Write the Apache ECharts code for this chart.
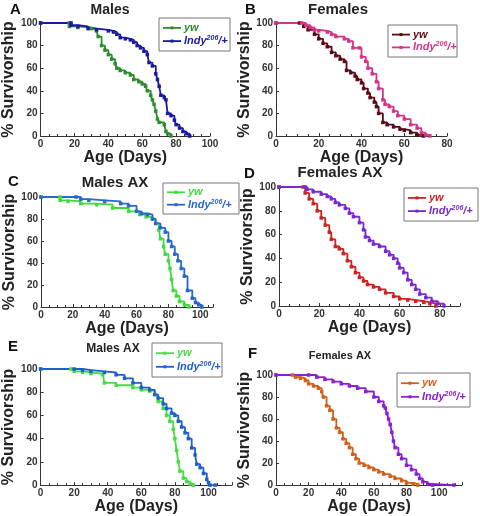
<!DOCTYPE html><html><head><meta charset="utf-8"><script src="https://cdn.jsdelivr.net/npm/echarts@6/dist/echarts.min.js"></script>
<style>body{margin:0;background:#fff}#c{width:480px;height:516px}</style></head><body><div id="c"></div><script>
const A_yw=[[0,100],[17,100],[17,97],[22,96],[30,95],[33,93],[34,88],[36,80],[38,76],[40,72],[42,68],[44,64],[45,60],[47,58],[50,56],[53,54],[55,50],[58,48],[60,46],[62,44],[63,40],[65,36],[66,32],[67,28],[68,22],[69,15],[70,12],[73,10],[74,4],[75,2],[77,0]];
const A_indy=[[0,100],[18,100],[18,98],[22,97],[28,95],[33,94],[40,93],[43,92],[45,90],[47,87],[50,86],[53,85],[55,83],[57,80],[59,78],[61,75],[63,72],[64,65],[66,62],[68,55],[69,50],[70,44],[71,36],[73,34],[74,32],[75,20],[77,18],[79,14],[80,10],[82,7],[84,4],[86,2],[88,0]];
const B_yw=[[0,100],[11,100],[13,97],[15,94],[18,90],[20,86],[22,82],[24,79],[26,74],[28,71],[30,68],[32,66],[33,58],[35,56],[37,53],[38,50],[40,47],[41,42],[43,38],[44,34],[46,30],[47,26],[48,20],[50,12],[52,10],[55,8],[58,6],[60,5],[63,3],[66,1],[69,0]];
const B_indy=[[0,100],[12,100],[14,98],[16,96],[18,94],[20,93],[24,92],[26,90],[28,88],[32,86],[34,84],[36,78],[39,78],[40,70],[42,66],[43,60],[45,55],[47,48],[48,42],[50,32],[51,28],[53,26],[55,22],[57,18],[60,15],[63,10],[66,7],[68,3],[70,1],[72,0]];
const C_yw=[[0,100],[12,100],[12,97],[17,96],[25,94],[35,93],[45,90],[55,87],[62,84],[66,82],[70,80],[72,76],[74,70],[75,62],[77,55],[78,48],[80,42],[81,35],[82,25],[83,15],[85,10],[87,5],[90,2],[93,0]];
const C_indy=[[0,100],[22,100],[25,98],[30,97],[40,96],[50,94],[55,92],[60,87],[63,85],[67,84],[70,80],[72,76],[75,72],[78,68],[80,60],[82,55],[84,48],[86,42],[88,35],[90,28],[92,15],[95,8],[97,4],[99,2],[101,0]];
const D_yw=[[0,100],[12,100],[13,95],[15,90],[17,86],[19,80],[21,74],[23,68],[25,62],[26,56],[28,50],[30,48],[32,44],[34,38],[36,33],[38,28],[40,24],[42,21],[44,18],[47,16],[50,14],[53,11],[57,8],[60,6],[64,5],[68,4],[72,3],[75,2],[78,0]];
const D_indy=[[0,100],[13,100],[14,98],[17,96],[21,94],[24,92],[26,90],[28,87],[30,85],[33,82],[35,78],[37,75],[40,70],[42,64],[43,58],[45,55],[47,52],[50,50],[53,46],[55,43],[57,40],[59,36],[60,32],[62,28],[64,22],[66,18],[68,14],[70,10],[73,7],[76,4],[79,2],[82,0]];
const E_yw=[[0,100],[18,100],[20,98],[25,97],[30,96],[37,95],[38,88],[45,86],[55,84],[60,82],[65,81],[68,78],[70,72],[73,66],[75,60],[77,55],[79,48],[80,40],[81,30],[82,20],[83,12],[85,6],[87,3],[89,1],[91,0]];
const E_indy=[[0,100],[20,100],[25,99],[30,98],[38,97],[45,95],[50,92],[55,88],[60,84],[65,82],[68,78],[70,75],[73,70],[75,66],[78,62],[80,60],[82,55],[84,50],[86,45],[88,40],[90,32],[92,26],[93,18],[95,15],[97,10],[99,5],[100,2],[101,0],[104,0]];
const F_yw=[[0,100],[10,100],[12,98],[15,97],[18,95],[20,92],[23,90],[26,88],[28,85],[29,80],[31,72],[33,68],[35,60],[37,52],[39,48],[41,42],[43,38],[45,34],[47,28],[49,24],[51,20],[54,18],[57,16],[60,14],[63,12],[66,10],[70,8],[73,6],[77,4],[80,2],[84,1],[87,0]];
const F_indy=[[0,100],[20,100],[25,98],[30,96],[35,94],[40,92],[45,90],[50,88],[55,85],[60,80],[63,76],[66,72],[67,70],[68,65],[69,60],[70,55],[71,48],[72,40],[73,34],[75,28],[77,24],[80,18],[83,14],[86,10],[88,6],[90,3],[93,1],[96,0],[109,0]];

const panels=[
 {g:[38,23,172,113],max:100,d:[A_yw,A_indy],c:['#2e8b2e','#1a1a9e'],leg:[159,18,71,33],t:'Males',tp:[110,10,14],L:'A',lp:[10,10]},
 {g:[276,23,171,113],max:80,d:[B_yw,B_indy],c:['#5a0a14','#d6338a'],leg:[388,25,69,32],t:'Females',tp:[338,10,15],L:'B',lp:[245,10]},
 {g:[41,197,172,110],max:108,d:[C_yw,C_indy],c:['#3ddc3d','#2a66cc'],leg:[163,183,76,31],t:'Males AX',tp:[115,183,15],L:'C',lp:[8,182]},
 {g:[279,187,181,119],max:90,d:[D_yw,D_indy],c:['#cc2222','#7a28d0'],leg:[404,188,74,33],t:'Females AX',tp:[340,173,15],L:'D',lp:[244,174]},
 {g:[36,369,196,120],max:114,d:[E_yw,E_indy],c:['#44dd44','#1f5fcc'],leg:[152,343,70,34],t:'Males AX',tp:[113,349,12],L:'E',lp:[8,347]},
 {g:[276,375,186,115],max:114,d:[F_yw,F_indy],c:['#d2601a','#8b1fd6'],leg:[397,373,73,34],t:'Females AX',tp:[340,356,11],L:'F',lp:[248,354]}
];
const grid=[],xAxis=[],yAxis=[],series=[],graphic=[];
const lab={fontWeight:'bold',fontSize:10,color:'#333',margin:3};
panels.forEach((p,i)=>{
 grid.push({left:p.g[0],top:p.g[1],width:p.g[2],height:p.g[3]});
 xAxis.push({gridIndex:i,type:'value',min:0,max:p.max,interval:20,name:'Age (Days)',nameLocation:'middle',nameGap:12,
  nameTextStyle:{fontWeight:'bold',fontSize:16,color:'#222'},axisLine:{lineStyle:{color:'#333'}},axisTick:{inside:true,length:3,lineStyle:{color:'#333'}},
  minorTick:{show:true,splitNumber:4,length:2},splitLine:{show:false},axisLabel:Object.assign({showMaxLabel:p.max%20===0},lab)});
 yAxis.push({gridIndex:i,type:'value',min:0,max:100,interval:20,name:'% Survivorship',nameLocation:'middle',nameGap:21,
  nameTextStyle:{fontWeight:'bold',fontSize:16,color:'#222'},axisLine:{show:true,lineStyle:{color:'#333'}},axisTick:{show:true,inside:true,length:3},
  splitLine:{show:false},axisLabel:lab});
 const names=['yw','Indy'];
 p.d.forEach((d,j)=>series.push({type:'line',xAxisIndex:i,yAxisIndex:i,data:d,step:'end',symbol:'rect',symbolSize:3.5,
  lineStyle:{width:1.8,color:p.c[j]},itemStyle:{color:p.c[j]},name:names[j]+i,animation:false}));
 const [lx,ly,lw,lh]=p.leg;
 graphic.push({type:'rect',shape:{x:lx,y:ly,width:lw,height:lh},style:{fill:'#fff',stroke:'#777',lineWidth:1},z:100});
 [0,1].forEach(j=>{const yy=ly+lh*(j?0.7:0.3);
  graphic.push({type:'line',shape:{x1:lx+4,y1:yy,x2:lx+22,y2:yy},style:{stroke:p.c[j],lineWidth:1.8},z:101});
  graphic.push({type:'rect',shape:{x:lx+11.5,y:yy-1.5,width:3,height:3},style:{fill:p.c[j]},z:101});
  graphic.push({type:'text',x:lx+25,y:yy,z:101,style:{text:j?'{i|Indy}{s|206}{i|/+}':'{i|yw}',verticalAlign:'middle',
   rich:{i:{fontStyle:'italic',fontWeight:'bold',fontSize:11,fill:p.c[j]},s:{fontStyle:'italic',fontWeight:'bold',fontSize:7,fill:p.c[j],verticalAlign:'top',padding:[0,0,6,0]}}}});
 });
 graphic.push({type:'text',x:p.tp[0],y:p.tp[1],style:{text:p.t,fontWeight:'bold',fontSize:p.tp[2],fill:'#222',align:'center',verticalAlign:'middle'}});
 graphic.push({type:'text',x:p.lp[0],y:p.lp[1],style:{text:p.L,fontWeight:'bold',fontSize:15,fill:'#111',verticalAlign:'middle'}});
});
const ch=echarts.init(document.getElementById('c'));
ch.setOption({animation:false,grid,xAxis,yAxis,series,graphic,textStyle:{fontFamily:'Liberation Sans, Arial, sans-serif'}});
</script></body></html>
